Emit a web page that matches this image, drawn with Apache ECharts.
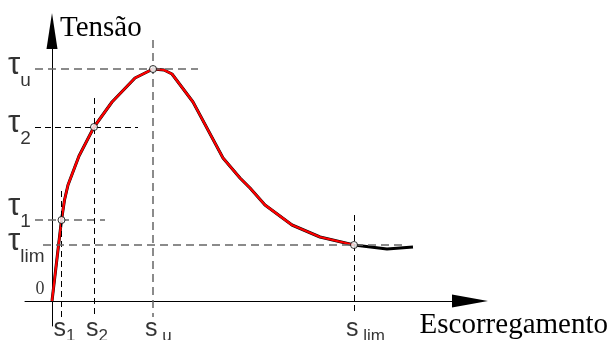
<!DOCTYPE html>
<html lang="pt">
<head>
  <meta charset="UTF-8">
  <title>Tensão x Escorregamento</title>
  <style>
    html,body{margin:0;padding:0;background:#fff}
    #box{width:608px;height:340px}
  </style>
  <script src="https://cdn.jsdelivr.net/npm/echarts@6/dist/echarts.min.js"></script>
</head>
<body>
<div id="box"></div>
<script>
// curva tensão x escorregamento (unidades arbitrárias)
const curveS   = [0, 9.5, 12.5, 16, 27, 42, 60, 83, 101, 112, 120, 141, 156, 171, 188, 198, 213, 240, 268, 302];
const curveTau = [0, 81, 101, 116, 145, 174, 199, 223, 232, 231, 227, 199, 171, 143, 123, 113, 96, 76, 64, 56];
// trecho final, depois de s_lim
const tailS   = [302, 335, 361];
const tailTau = [56, 52, 54];

// pontos notáveis: índice, s, tau
const pointSubs = ['1', '2', 'u', 'lim'];
const sVals     = [9.5, 42, 101, 302];
const tauVals   = [81, 174, 232, 56];

const serif = '"Liberation Serif", "Times New Roman", serif';
const sans  = '"Liberation Sans", Arial, sans-serif';

// extensão das linhas de chamada (tracejadas)
const guideRight = [53, 86, 146, 350];
const guideTop   = [110, 203, 261, 86];
const hColor = ['#666', '#000', '#666', '#666'];
const vColor = ['#000', '#000', '#666', '#000'];

const chart = echarts.init(document.getElementById('box'));

const guides = [];
pointSubs.forEach((p, i) => {
  let dashH = hColor[i] == '#000' ? [6, 4] : [8, 5];
  let dashV = vColor[i] == '#000' ? [6, 4] : [8, 5];
  guides.push([
    {coord: [p == 'lim' ? -9 : -17, tauVals[i]], lineStyle: {color: hColor[i], type: dashH, width: hColor[i] == '#000' ? 1 : 1.5}},
    {coord: [guideRight[i], tauVals[i]]}
  ]);
  guides.push([
    {coord: [sVals[i], guideTop[i]], lineStyle: {color: vColor[i], type: dashV, width: vColor[i] == '#000' ? 1 : 1.5}},
    {coord: [sVals[i], p == 'lim' ? -12 : -16]}
  ]);
});

const full = curveS.map((s, i) => [s, curveTau[i]]).concat(tailS.slice(1).map((s, i) => [s, tailTau[i + 1]]));
const red  = curveS.map((s, i) => [s, curveTau[i]]);

const sLabels = sVals.map((s, i) => ({
  value: [s, 0],
  label: {formatter: '{s|s}{b|' + (pointSubs[i] == 'u' || pointSubs[i] == 'lim' ? ' ' : '') + pointSubs[i] + '}'}
}));
// τ1 fica um pouco acima da linha para não encostar em τlim
const tauLabels = tauVals.map((t, i) => ({
  value: [0, t],
  label: {formatter: '{t|τ}{b|' + pointSubs[i] + '}', offset: [-44, pointSubs[i] == '1' ? -9 : 1]}
}));

const option = {
  animation: false,
  grid: {left: 25, right: 138, top: 31, bottom: 14, outerBoundsMode: 'none'},
  xAxis: {
    type: 'value', min: -27, max: 418,
    name: 'Escorregamento', nameLocation: 'end', nameGap: 138,
    nameTextStyle: {fontFamily: serif, fontSize: 29, color: '#000', align: 'right', verticalAlign: 'top', padding: [10, 0, 0, 0]},
    axisLine: {onZero: true, symbol: ['none', 'triangle'], symbolSize: [13, 36], lineStyle: {color: '#000', width: 1}},
    axisTick: {show: false}, axisLabel: {show: false}, splitLine: {show: false}
  },
  yAxis: {
    type: 'value', min: -25, max: 270,
    name: 'Tensão', nameLocation: 'end', nameGap: 3,
    nameTextStyle: {fontFamily: serif, fontSize: 29, color: '#000', align: 'left', verticalAlign: 'middle', padding: [0, 0, 0, 8]},
    axisLine: {onZero: true, symbol: ['none', 'triangle'], symbolSize: [11, 36], lineStyle: {color: '#000', width: 1}},
    axisTick: {show: false}, splitLine: {show: false}, axisLabel: {show: false}
  },
  series: [
    {
      name: 'guias', type: 'line', data: [], silent: true,
      markLine: {silent: true, symbol: 'none', label: {show: false}, animation: false, data: guides}
    },
    {
      name: 'contorno', type: 'line', data: full, symbol: 'none',
      lineStyle: {color: '#000', width: 3}
    },
    {
      name: 'curva', type: 'line', data: red, symbol: 'none',
      lineStyle: {color: '#f00', width: 2.2}
    },
    {
      name: 'pontos', type: 'scatter', data: sVals.map((s, i) => [s, tauVals[i]]),
      symbol: 'circle', symbolSize: 7, z: 5,
      itemStyle: {color: '#fff', borderColor: '#000', borderWidth: 1}
    },
    {
      name: 'rotulos s', type: 'scatter', data: sLabels, symbolSize: 0, silent: true,
      label: {
        show: true, position: 'inside', align: 'left', verticalAlign: 'top', offset: [-8, 16],
        rich: {
          s: {fontFamily: sans, fontSize: 25, color: '#000', verticalAlign: 'bottom', padding: [0, 0, 3, 0]},
          b: {fontFamily: sans, fontSize: 17, color: '#000', verticalAlign: 'bottom'}
        }
      }
    },
    {
      name: 'rotulos tau', type: 'scatter', data: tauLabels, symbolSize: 0, silent: true,
      label: {
        show: true, position: 'inside', align: 'left', verticalAlign: 'middle',
        rich: {
          t: {fontFamily: sans, fontSize: 31, color: '#000', verticalAlign: 'bottom', padding: [0, 0, 10, 0]},
          b: {fontFamily: sans, fontSize: 19, color: '#000', verticalAlign: 'bottom'}
        }
      }
    },
    {
      name: 'origem', type: 'scatter', data: [[0, 0]], symbolSize: 0, silent: true,
      label: {show: true, position: 'inside', formatter: '0', offset: [-12, -12],
        fontFamily: serif, fontSize: 18, color: '#000'}
    }
  ]
};

chart.setOption(option);
</script>
</body>
</html>
